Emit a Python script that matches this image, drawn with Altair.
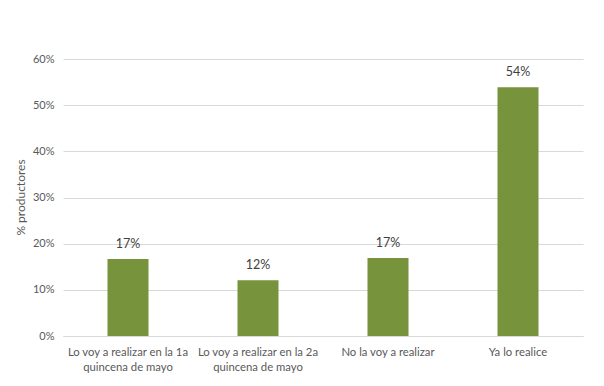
import altair as alt
import pandas as pd

categories = [
    "Lo voy a realizar en la 1a\nquincena de mayo",
    "Lo voy a realizar en la 2a\nquincena de mayo",
    "No la voy a realizar",
    "Ya lo realice",
]
values = [0.167, 0.121, 0.169, 0.539]
labels = ["17%", "12%", "17%", "54%"]

df = pd.DataFrame({"cat": categories, "val": values, "lab": labels})

FONT = "Lato"
GRAY = "#595959"

base = alt.Chart(df).encode(
    x=alt.X(
        "cat:N",
        sort=categories,
        title=None,
        scale=alt.Scale(paddingInner=0.0, paddingOuter=0.0),
        axis=alt.Axis(
            labelAngle=0,
            labelExpr="split(datum.label, '\\n')",
            labelFont=FONT,
            labelFontSize=11.3,
            labelColor=GRAY,
            labelPadding=10,
            labelLineHeight=15,
            domainColor="#D9D9D9",
            ticks=False,
        ),
    ),
    y=alt.Y(
        "val:Q",
        title="% productores",
        scale=alt.Scale(domain=[0, 0.6]),
        axis=alt.Axis(
            format=".0%",
            values=[0, 0.1, 0.2, 0.3, 0.4, 0.5, 0.6],
            labelFont=FONT,
            labelFontSize=11,
            labelColor=GRAY,
            labelPadding=9,
            ticks=False,
            domain=False,
            gridColor="#D9D9D9",
            titleFont=FONT,
            titleFontSize=12,
            titleFontWeight="normal",
            titleColor=GRAY,
            titleX=-43,
            titleY=138,
            titleAlign="center",
            titleBaseline="middle",
        ),
    ),
)

bars = base.mark_bar(size=41, color="#77933C")
text = base.mark_text(dy=-15, font=FONT, fontSize=12.5, color="#404040").encode(text="lab:N")

chart = (
    (bars + text)
    .properties(
        width=520,
        height=277,
        padding={"left": 55, "top": 51, "right": 5, "bottom": 40},
        autosize=alt.AutoSizeParams(type="none"),
    )
    .configure_view(stroke=None)
)

chart.save("out.html", embed_options={"renderer": "svg", "actions": False})
